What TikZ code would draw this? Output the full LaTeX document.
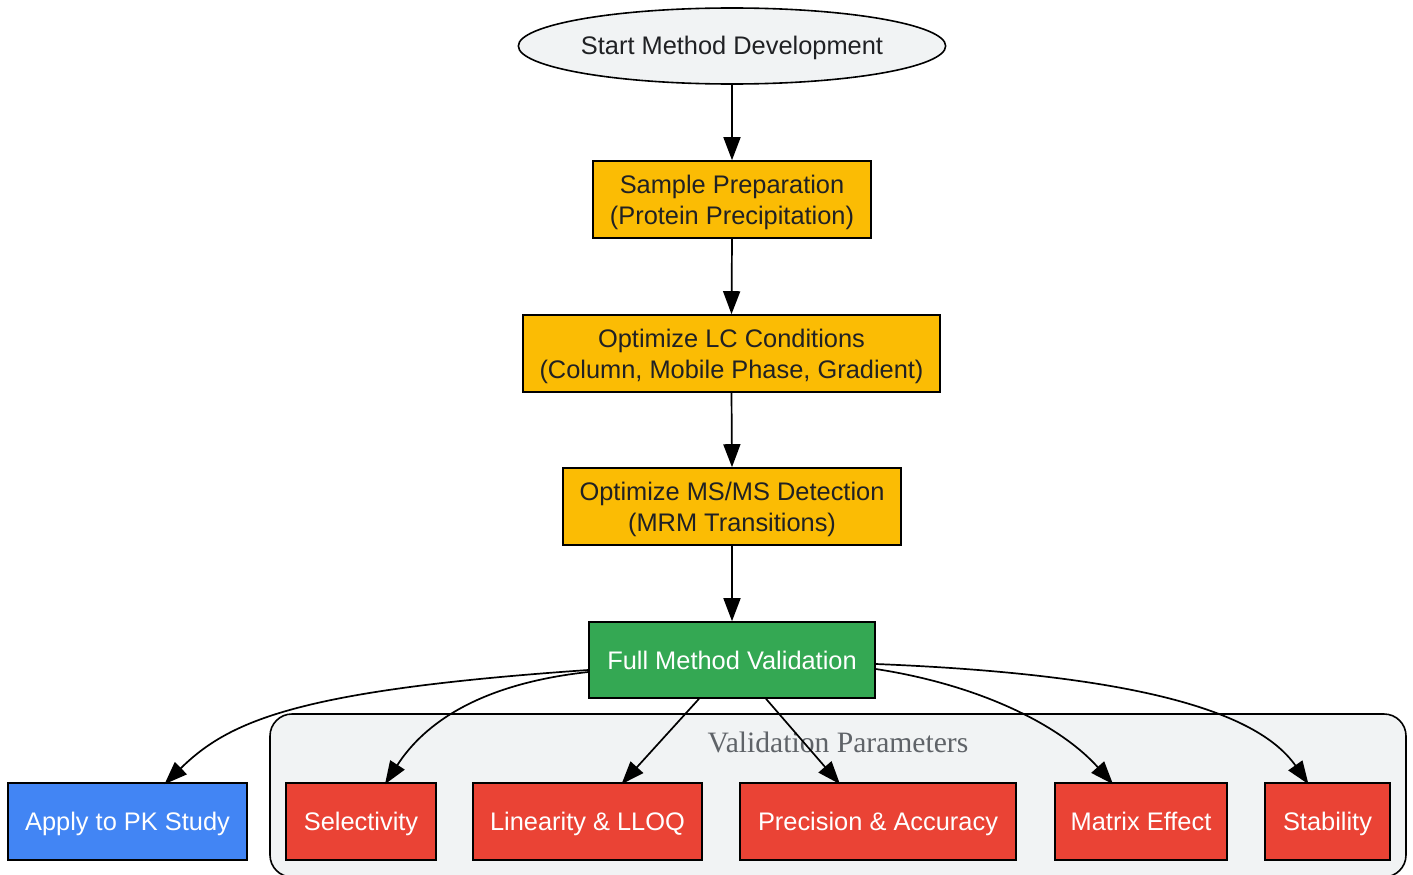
\documentclass[tikz,border=0pt]{standalone}
\usepackage{fontspec}
\setmainfont{Liberation Sans}
\newfontfamily\serifl{Liberation Serif}
\usetikzlibrary{arrows.meta,shapes.geometric}
\definecolor{gbg}{HTML}{F1F3F4}
\definecolor{gyel}{HTML}{FBBC04}
\definecolor{ggrn}{HTML}{34A853}
\definecolor{gblu}{HTML}{4285F4}
\definecolor{gred}{HTML}{EA4335}
\definecolor{gtxt}{HTML}{202124}
\definecolor{glab}{HTML}{5F6368}
\tikzset{
  box/.style={draw=black,line width=1.6pt,rectangle,inner sep=0pt,align=center,
    font=\fontsize{25.4}{31}\selectfont},
  one/.style={text height=24pt,text depth=6pt},
  two/.style={text height=50pt,text depth=1pt},
  ybox/.style={box,fill=gyel,text=gtxt,two},
  wbox/.style={box,text=white,one},
  edge/.style={line width=1.7pt,-{Triangle[length=23pt,width=17pt]}},
}
\begin{document}
\begin{tikzpicture}[x=1pt,y=-1pt]
\useasboundingbox (0,0) rectangle (1413,875);
\draw[line width=1.6pt,fill=gbg,rounded corners=22pt] (270,714) rectangle (1406,877);
\node[font=\serifl\fontsize{29.6}{34}\selectfont,text=glab] (cl) at (838,742) {Validation Parameters};
\node[ellipse,draw=black,line width=1.6pt,fill=gbg,text=gtxt,minimum width=427pt,minimum height=76pt,inner sep=0pt,
  font=\fontsize{25.4}{31}\selectfont,one] (st) at (732,46) {Start Method Development};
\node[ybox,minimum width=278pt,minimum height=77pt] (sp) at (732,199.5) {Sample Preparation\\(Protein Precipitation)};
\node[ybox,minimum width=417pt,minimum height=77pt] (lc) at (731.5,353.5) {Optimize LC Conditions\\(Column, Mobile Phase, Gradient)};
\node[ybox,minimum width=338pt,minimum height=77pt] (ms) at (732,506.5) {Optimize MS/MS Detection\\(MRM Transitions)};
\node[wbox,fill=ggrn,minimum width=286pt,minimum height=76pt] (fv) at (732,660) {Full Method Validation};
\node[wbox,fill=gblu,minimum width=239pt,minimum height=77pt] (pk) at (127.5,821.5) {Apply to PK Study};
\node[wbox,fill=gred,minimum width=150pt,minimum height=77pt] (se) at (361,821.5) {Selectivity};
\node[wbox,fill=gred,minimum width=229pt,minimum height=77pt] (li) at (587.5,821.5) {Linearity \& LLOQ};
\node[wbox,fill=gred,minimum width=276pt,minimum height=77pt] (pa) at (878,821.5) {Precision \& Accuracy};
\node[wbox,fill=gred,minimum width=172pt,minimum height=77pt] (me) at (1141,821.5) {Matrix Effect};
\node[wbox,fill=gred,minimum width=125pt,minimum height=77pt] (sb) at (1327.5,821.5) {Stability};
\draw[edge] (st.south) -- (sp.north);
\draw[edge] (sp.south) -- (lc.north);
\draw[edge] (lc.south) -- (ms.north);
\draw[edge] (ms.south) -- (fv.north);
\draw[edge] ([yshift=-10pt]fv.west) .. controls (300,690) and (230,720) .. ([xshift=37pt,yshift=-2pt]pk.north);
\draw[edge] ([yshift=-12pt]fv.west) .. controls (470,685) and (420,730) .. ([xshift=24pt,yshift=-2pt]se.north);
\draw[edge] ([xshift=-33pt]fv.south) -- ([xshift=34pt,yshift=-2pt]li.north);
\draw[edge] ([xshift=34pt]fv.south) -- ([xshift=-38pt,yshift=-2pt]pa.north);
\draw[edge] ([yshift=-9pt]fv.east) .. controls (980,685) and (1060,725) .. ([xshift=-28pt,yshift=-2pt]me.north);
\draw[edge] ([yshift=-4pt]fv.east) .. controls (1150,675) and (1260,715) .. ([xshift=-19pt,yshift=-2pt]sb.north);
\end{tikzpicture}
\end{document}
